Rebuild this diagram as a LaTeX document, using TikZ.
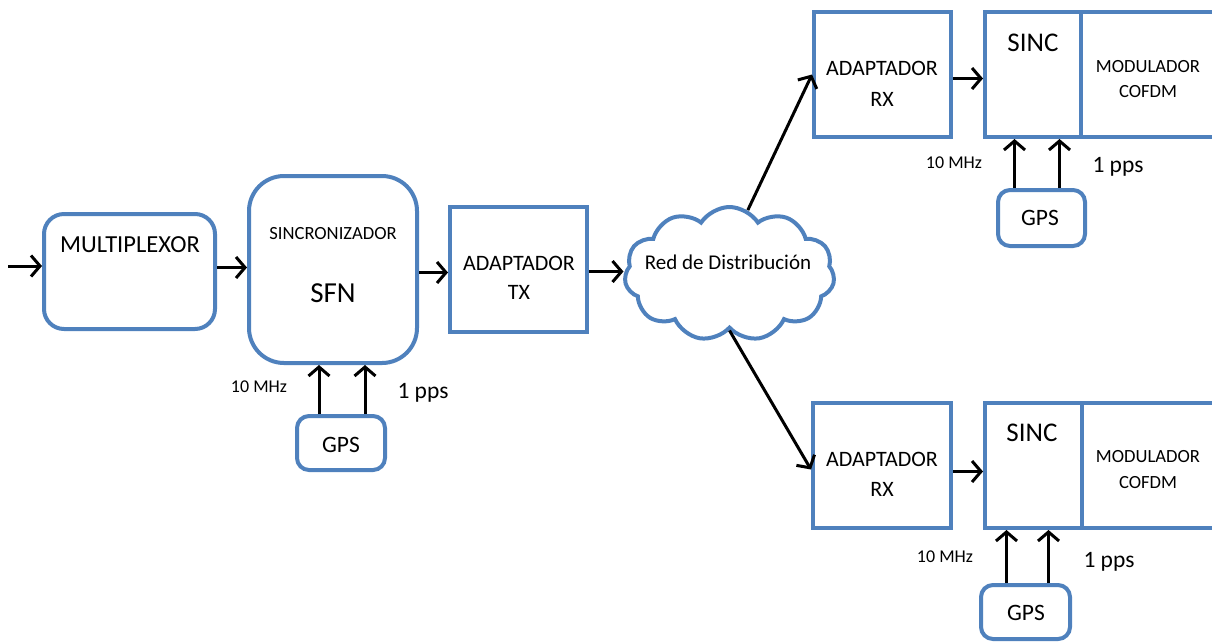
\documentclass[tikz,border=0pt]{standalone}
\usepackage{fontspec}
\setmainfont{Carlito}
\usetikzlibrary{arrows.meta,shapes.symbols}
\definecolor{boxblue}{HTML}{4F81BD}
\newcommand{\fs}[1]{\fontsize{#1}{#1}\selectfont}
\begin{document}
\begin{tikzpicture}[x=1pt,y=-1pt,
  blk/.style={draw=boxblue,line width=4pt,inner sep=0pt,fill=white},
  rnd/.style={blk,rounded corners=#1},
  sig/.style={-{Straight Barb[length=9pt,width=21pt]},line width=3pt,black},
  lbl/.style={inner sep=0pt,font=\fs{#1}}]
\useasboundingbox (0,0) rectangle (1212,641);
% emisor
\node[rnd=20pt,minimum width=171pt,minimum height=115pt] (mux) at (129.5,271.5) {};
\node[lbl=24.5] (muxtxt) at (130,245) {MULTIPLEXOR};
\node[rnd=35pt,minimum width=168pt,minimum height=187pt] (sfn) at (333,269.5) {};
\node[lbl=18.6] (sfntop) at (333,234) {SINCRONIZADOR};
\node[lbl=29] (sfntxt) at (333,293) {SFN};
\node[rnd=12pt,minimum width=88pt,minimum height=54pt] (gps) at (341,443) {};
\node[lbl=23.5] (gpstxt) at (341,445) {GPS};
\node[lbl=18] (mhz) at (259,387) {10 MHz};
\node[lbl=23.5] (pps) at (423,393) {1 pps};
\node[blk,minimum width=137pt,minimum height=125pt] (tx) at (518.5,269.5) {};
\node[lbl=22] (txa) at (519,263) {ADAPTADOR};
\node[lbl=22] (txb) at (519,292) {TX};
\node[cloud,draw=boxblue,line width=4pt,fill=white,cloud puffs=11,cloud puff arc=115,
  cloud ignores aspect,minimum width=210pt,minimum height=134pt] (red) at (729.5,274) {};
\node[lbl=21] (redtxt) at (728,262) {Red de Distribución};
% receptor 1
\node[blk,minimum width=137pt,minimum height=125pt] (rxa) at (882.5,74.5) {};
\node[lbl=22] (rxaa) at (882,68) {ADAPTADOR};
\node[lbl=22] (rxab) at (882,99) {RX};
\node[blk,minimum width=133pt,minimum height=125pt] (moda) at (1147.5,74.5) {};
\node[blk,minimum width=96pt,minimum height=125pt] (sinca) at (1033,74.5) {};
\node[lbl=27] (sincatxt) at (1033,43) {SINC};
\node[lbl=18.6] (modaa) at (1148,67) {MODULADOR};
\node[lbl=18.6] (modab) at (1148,92) {COFDM};
\node[rnd=12pt,minimum width=87pt,minimum height=56pt] (gpsa) at (1041.5,218) {};
\node[lbl=23.5] (gpsatxt) at (1040,218) {GPS};
\node[lbl=18] (mhza) at (954,163) {10 MHz};
\node[lbl=23.5] (ppsa) at (1118,167) {1 pps};
% receptor 2
\node[blk,minimum width=138pt,minimum height=125pt] (rxb) at (882,465.5) {};
\node[lbl=22] (rxba) at (882,459) {ADAPTADOR};
\node[lbl=22] (rxbb) at (882,489) {RX};
\node[blk,minimum width=132pt,minimum height=125pt] (modb) at (1148,465.5) {};
\node[blk,minimum width=97pt,minimum height=125pt] (sincb) at (1033.5,465.5) {};
\node[lbl=27] (sincbtxt) at (1032,433) {SINC};
\node[lbl=18.6] (modba) at (1148,457) {MODULADOR};
\node[lbl=18.6] (modbb) at (1148,483) {COFDM};
\node[rnd=12pt,minimum width=89pt,minimum height=54pt] (gpsb) at (1025.5,612) {};
\node[lbl=23.5] (gpsbtxt) at (1026,613) {GPS};
\node[lbl=18] (mhzb) at (945,557) {10 MHz};
\node[lbl=23.5] (ppsb) at (1109,562) {1 pps};
% flechas
\coordinate (in) at (8,266);
\draw[sig] (in) -- (in -| mux.west);
\draw[sig] ([yshift=4pt]mux.east) -- ([yshift=4pt]mux.east -| sfn.west);
\draw[sig] ([yshift=-3pt]sfn.east) -- ([yshift=-3pt]tx.west);
\draw[sig] ([yshift=-2pt]tx.east) -- ([yshift=-2pt]tx.east -| red.west);
\draw[sig] (red.74) -- (rxa.west);
\draw[sig] (red.south) -- ([yshift=-4pt]rxb.west);
\draw[sig] ([yshift=-4pt]rxa.east) -- ([yshift=-4pt]rxa.east -| sinca.west);
\draw[sig] ([yshift=-6pt]rxb.east) -- ([yshift=-6pt]rxb.east -| sincb.west);
\draw[sig] ([xshift=-22pt]gps.north) -- ([xshift=-22pt]gps.north |- sfn.south);
\draw[sig] ([xshift=24pt]gps.north) -- ([xshift=24pt]gps.north |- sfn.south);
\draw[sig] ([xshift=-27pt]gpsa.north) -- ([xshift=-27pt]gpsa.north |- sinca.south);
\draw[sig] ([xshift=18pt]gpsa.north) -- ([xshift=18pt]gpsa.north |- sinca.south);
\draw[sig] ([xshift=-19pt]gpsb.north) -- ([xshift=-19pt]gpsb.north |- sincb.south);
\draw[sig] ([xshift=23pt]gpsb.north) -- ([xshift=23pt]gpsb.north |- sincb.south);
\end{tikzpicture}
\end{document}
